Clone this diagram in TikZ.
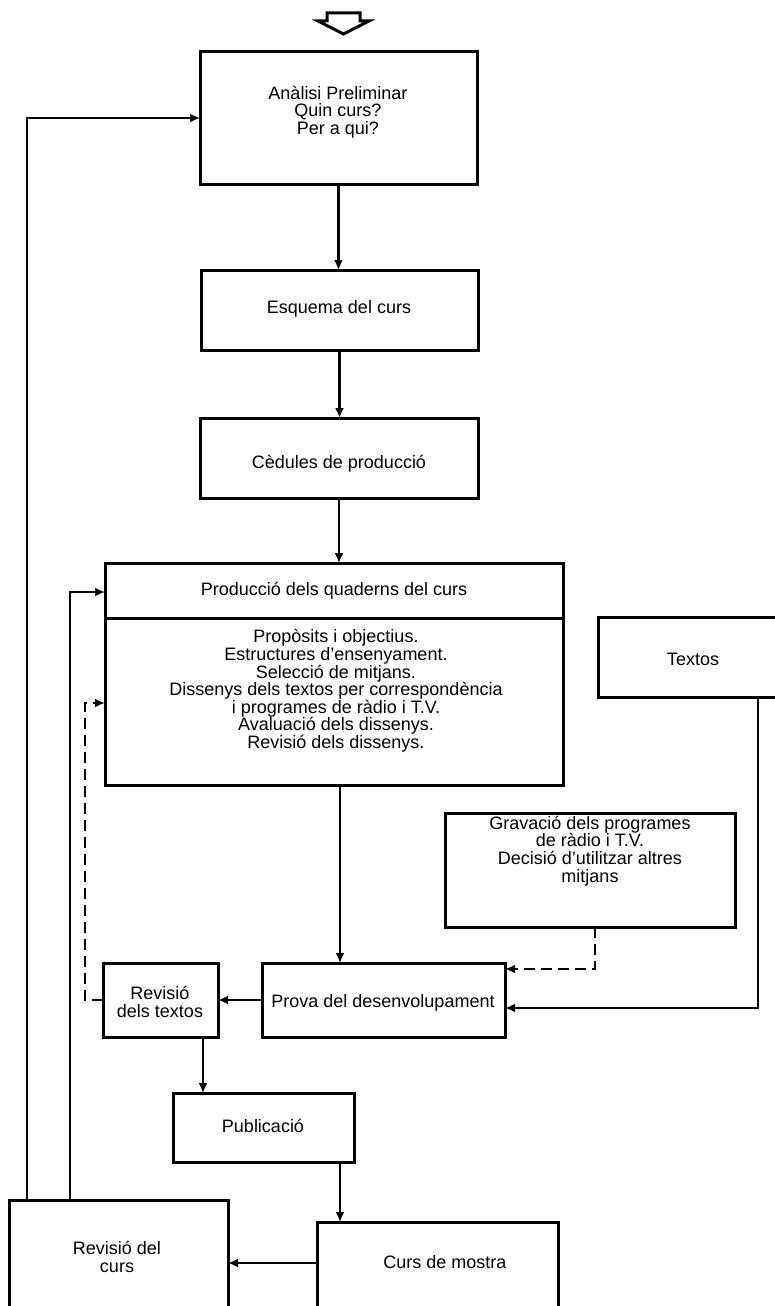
\documentclass[tikz,border=0pt]{standalone}
\usepackage{fontspec}
\setmainfont{Liberation Sans}
\usetikzlibrary{arrows.meta,calc}
\newcommand\lblfont{\fontsize{18}{17.6}\selectfont\lineskiplimit -20pt\relax}
\tikzset{
  box/.style={draw, line width=3pt, inner sep=0pt, outer sep=0pt, rectangle},
  lbl/.style={align=center, inner sep=0pt, font=\lblfont},
  arr/.style={line width=2.5pt, -{Latex[length=10pt,width=9pt]}},
  dsh/.style={arr, dash pattern=on 11pt off 6pt},
}
\begin{document}
\begin{tikzpicture}[x=1pt,y=-1pt]
\useasboundingbox (0,0) rectangle (775,1306);
\clip (0,0) rectangle (775,1306);
% entry arrow
\draw[line width=3pt, line join=miter] (327,13) -- (360,13) -- (360,21) -- (369,21) -- (343.5,34) -- (318,21) -- (327,21) -- cycle;
% boxes
\node[box, minimum width=277pt, minimum height=132pt] (analisi) at (338.5,118) {};
\node[box, minimum width=277pt, minimum height=80pt] (esquema) at (339.5,310) {};
\node[box, minimum width=278pt, minimum height=80pt] (cedules) at (339,458) {};
\node[box, minimum width=458pt, minimum height=222pt] (prod) at (334,674) {};
\node[box, minimum width=190pt, minimum height=80pt] (textos) at (693,657) {};
\node[box, minimum width=290pt, minimum height=114pt] (grav) at (590,870) {};
\node[box, minimum width=115pt, minimum height=74pt] (revt) at (160.5,1000) {};
\node[box, minimum width=243pt, minimum height=74pt] (prova) at (383.5,1000) {};
\node[box, minimum width=181pt, minimum height=69pt] (publ) at (263.5,1127.5) {};
\node[box, minimum width=219pt, minimum height=140pt] (revc) at (118.5,1270) {};
\node[box, minimum width=241pt, minimum height=120pt] (curs) at (437.5,1282) {};
\draw[line width=3pt] ($(prod.north west)+(0,55)$) -- ($(prod.north east)+(0,55)$);
% texts
\node[lbl] (analisi-t) at (338,112) {Anàlisi Preliminar\\Quin curs?\\Per a qui?};
\node[lbl] (esquema-t) at (339,309) {Esquema del curs};
\node[lbl] (cedules-t) at (339,464) {Cèdules de producció};
\node[lbl] (prod-h) at (334,591) {Producció dels quaderns del curs};
\node[lbl] (prod-t) at (336,691) {Propòsits i objectius.\\Estructures d'ensenyament.\\Selecció de mitjans.\\Dissenys dels textos per correspondència\\i programes de ràdio i T.V.\\Avaluació dels dissenys.\\Revisió dels dissenys.};
\node[lbl] (textos-t) at (693,659) {Textos};
\node[lbl] (grav-t) at (590,851) {Gravació dels programes\\de ràdio i T.V.\\Decisió d'utilitzar altres\\mitjans};
\node[lbl] (revt-t) at (160,1002) {Revisió\\dels textos};
\node[lbl] (prova-t) at (383,1003) {Prova del desenvolupament};
\node[lbl] (publ-t) at (263,1126) {Publicació};
\node[lbl] (revc-t) at (117,1257) {Revisió del\\curs};
\node[lbl] (curs-t) at (445,1262) {Curs de mostra};
% connectors
\draw[arr] (analisi.south) -- (analisi.south |- esquema.north);
\draw[arr] (esquema.south) -- (esquema.south |- cedules.north);
\draw[arr] (cedules.south) -- (cedules.south |- prod.north);
\coordinate (p1) at ($(prod.south)+(6,0)$);
\draw[arr] (p1) -- (p1 |- prova.north);
\coordinate (g1) at ($(grav.south)+(5,0)$);
\coordinate (g2) at ($(prova.east)+(0,-31)$);
\draw[dsh] (g1) |- (g2);
\coordinate (t1) at ($(textos.south)+(65,0)$);
\coordinate (t2) at ($(prova.east)+(0,8)$);
\draw[arr] (t1) |- (t2);
\draw[arr] (prova.west) -- (revt.east);
\coordinate (r1) at ($(revt.west)+(-18,0)$);
\coordinate (r2) at ($(prod.west)+(0,29)$);
\draw[dsh] (revt.west) -- (r1) |- (r2);
\coordinate (s1) at ($(revt.south)+(42.5,0)$);
\draw[arr] (s1) -- (s1 |- publ.north);
\coordinate (u1) at ($(publ.south)+(76.5,0)$);
\draw[arr] (u1) -- (u1 |- curs.north);
\coordinate (c1) at ($(curs.west)+(0,-19)$);
\draw[arr] (c1) -- (c1 -| revc.east);
\coordinate (v1) at ($(revc.north west)+(61,0)$);
\coordinate (v2) at ($(prod.west)+(0,-82)$);
\draw[arr] (v1) |- (v2);
\coordinate (w1) at ($(revc.north west)+(18,0)$);
\draw[arr] (w1) |- (analisi.west);
\end{tikzpicture}
\end{document}
